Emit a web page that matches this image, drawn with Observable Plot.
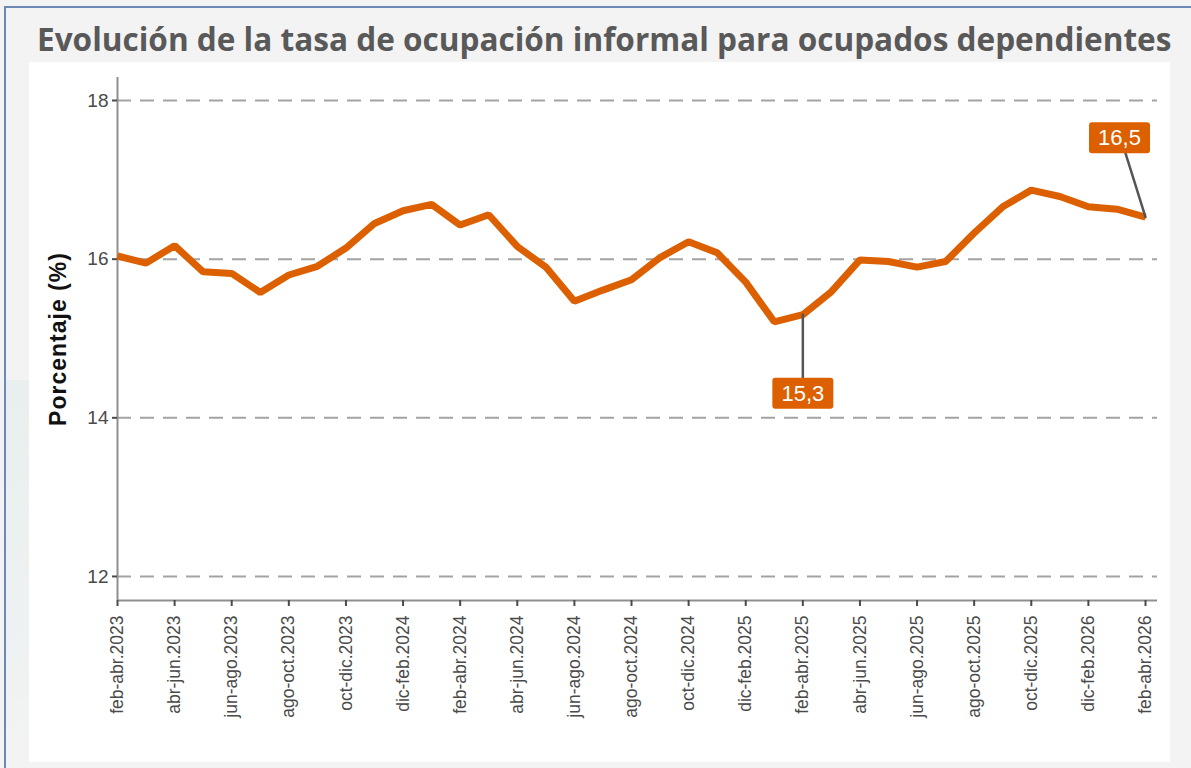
<!DOCTYPE html>
<html>
<head>
<meta charset="utf-8">
<script src="https://cdn.jsdelivr.net/npm/d3@7"></script>
<script src="https://cdn.jsdelivr.net/npm/@observablehq/plot@0.6"></script>
<style>
  html, body { margin: 0; padding: 0; }
  body { width: 1191px; height: 768px; position: relative; overflow: hidden; background: #f3f3f3; }
  #frame { position: absolute; left: 4px; top: 6px; right: -10px; bottom: -10px;
           border-top: 2px solid #6d88b4; border-left: 2px solid #6d88b4; }
  #deco1 { position: absolute; left: 6px; top: 380px; width: 24px; height: 380px;
           background: linear-gradient(160deg, #e9efee 0%, #edf1f1 60%, #f3f3f3 100%); }
  #panel { position: absolute; left: 29px; top: 62px; width: 1141px; height: 700px; background: #ffffff; }
  #title { position: absolute; left: 37px; top: 20px; white-space: nowrap;
           font-family: "Open Sans", "Noto Sans", sans-serif; font-weight: 700;
           font-size: 28px; color: #595959; line-height: 1.2; }
  #chart { position: absolute; left: 0; top: 0; }
</style>
</head>
<body>
<div id="frame"></div>
<div id="deco1"></div>
<div id="panel"></div>
<div id="title">Evolución de la tasa de ocupación informal para ocupados dependientes</div>
<div id="chart"></div>
<script>
// ---- data ----
const periods = [
  "feb-abr.2023","mar-may.2023","abr-jun.2023","may-jul.2023","jun-ago.2023","jul-sep.2023",
  "ago-oct.2023","sep-nov.2023","oct-dic.2023","nov-ene.2024","dic-feb.2024","ene-mar.2024",
  "feb-abr.2024","mar-may.2024","abr-jun.2024","may-jul.2024","jun-ago.2024","jul-sep.2024",
  "ago-oct.2024","sep-nov.2024","oct-dic.2024","nov-ene.2025","dic-feb.2025","ene-mar.2025",
  "feb-abr.2025","mar-may.2025","abr-jun.2025","may-jul.2025","jun-ago.2025","jul-sep.2025",
  "ago-oct.2025","sep-nov.2025","oct-dic.2025","nov-ene.2026","dic-feb.2026","ene-mar.2026",
  "feb-abr.2026"
];
const rates = [
  16.04, 15.95, 16.17, 15.84, 15.82, 15.58,
  15.80, 15.91, 16.14, 16.45, 16.61, 16.69,
  16.43, 16.56, 16.16, 15.90, 15.47, 15.61,
  15.74, 16.02, 16.22, 16.08, 15.71, 15.21,
  15.30, 15.59, 15.99, 15.97, 15.90, 15.97,
  16.33, 16.66, 16.87, 16.79, 16.66, 16.63,
  16.53
];
const yTicks = [12, 14, 16, 18];
const annotatedPeriods = ["feb-abr.2025", "feb-abr.2026"];
const annotationTexts = ["15,3", "16,5"];
const yLabel = "Porcentaje (%)";

// ---- build ----
const data = periods.map((p, i) => ({ i, period: p, rate: rates[i] }));
const xTickIdx = data.filter(d => d.i % 2 === 0).map(d => d.i);
const annots = annotatedPeriods.map((p, k) => {
  const d = data.find(e => e.period === p);
  return { i: d.i, rate: d.rate, text: annotationTexts[k] };
});

const orange = "#dd6000";
const yMin = 11.697, yMax = 18.29;
const leader = { draw(context, l) { context.moveTo(0, 0); context.lineTo(0, -l); } };

const chart = Plot.plot({
  width: 1191,
  height: 768,
  marginLeft: 117,
  marginRight: 34,
  marginTop: 77,
  marginBottom: 168,
  style: { fontFamily: "'Liberation Sans', Arial, sans-serif", background: "transparent", overflow: "visible" },
  x: { domain: [0, 36.42], axis: null },
  y: { domain: [yMin, yMax], axis: null },
  marks: [
    Plot.ruleY(yTicks, { stroke: "#a3a3a3", strokeWidth: 2, strokeDasharray: "14,9" }),
    Plot.ruleX([0], { stroke: "#8f8f8f", strokeWidth: 2 }),
    Plot.ruleY([yMin], { stroke: "#8f8f8f", strokeWidth: 2 }),
    Plot.axisY({ ticks: yTicks, tickFormat: d => String(d), tickSize: 5, tickPadding: 4,
                 fontSize: 19, color: "#4a4a4a", strokeWidth: 2, label: null }),
    Plot.axisX({ ticks: xTickIdx, tickFormat: i => periods[i], tickRotate: -90, tickSize: 6,
                 tickPadding: 9, fontSize: 17.5, color: "#4a4a4a", strokeWidth: 2, label: null }),
    Plot.text([yLabel], { frameAnchor: "left", rotate: -90, dx: -59, textAnchor: "middle",
                          fontSize: 23, fontWeight: "bold", fill: "#111" }),
    Plot.line(data, { x: "i", y: "rate", stroke: orange, strokeWidth: 7,
                      strokeLinejoin: "miter", strokeLinecap: "butt" }),
    Plot.vector([annots[0]], { x: "i", y: "rate", length: 64, rotate: 180, anchor: "start",
                               shape: leader, stroke: "#555", strokeWidth: 2.5 }),
    Plot.vector([annots[1]], { x: "i", y: "rate", length: 67, rotate: -17.4, anchor: "start",
                               shape: leader, stroke: "#555", strokeWidth: 2.5 }),
    Plot.text([annots[0]], { x: "i", y: "rate", text: "text", dy: 79, fill: "white", fontSize: 22 }),
    Plot.text([annots[1]], { x: "i", y: "rate", text: "text", dx: -26, dy: -79, fill: "white", fontSize: 22 })
  ]
});
document.getElementById("chart").appendChild(chart);

const svg = d3.select(chart);

// y-axis title spacing
svg.selectAll("text").filter(function () { return this.textContent === yLabel; })
  .style("letter-spacing", "1px");

// boxes behind annotation labels
svg.selectAll("text").filter(function () { return annotationTexts.includes(this.textContent); })
  .each(function () {
    const b = this.getBBox();
    const w = 61, h = 31;
    const cx = b.x + b.width / 2, cy = b.y + b.height / 2;
    const r = document.createElementNS("http://www.w3.org/2000/svg", "rect");
    r.setAttribute("x", cx - w / 2);
    r.setAttribute("y", cy - h / 2);
    r.setAttribute("width", w);
    r.setAttribute("height", h);
    r.setAttribute("rx", 3);
    r.setAttribute("fill", orange);
    const t = this.getAttribute("transform");
    if (t) r.setAttribute("transform", t);
    this.parentNode.insertBefore(r, this);
  });

// fit title to reference width
const title = document.getElementById("title");
const target = 1135;
const w0 = title.getBoundingClientRect().width;
title.style.fontSize = (28 * target / w0) + "px";
</script>
</body>
</html>
